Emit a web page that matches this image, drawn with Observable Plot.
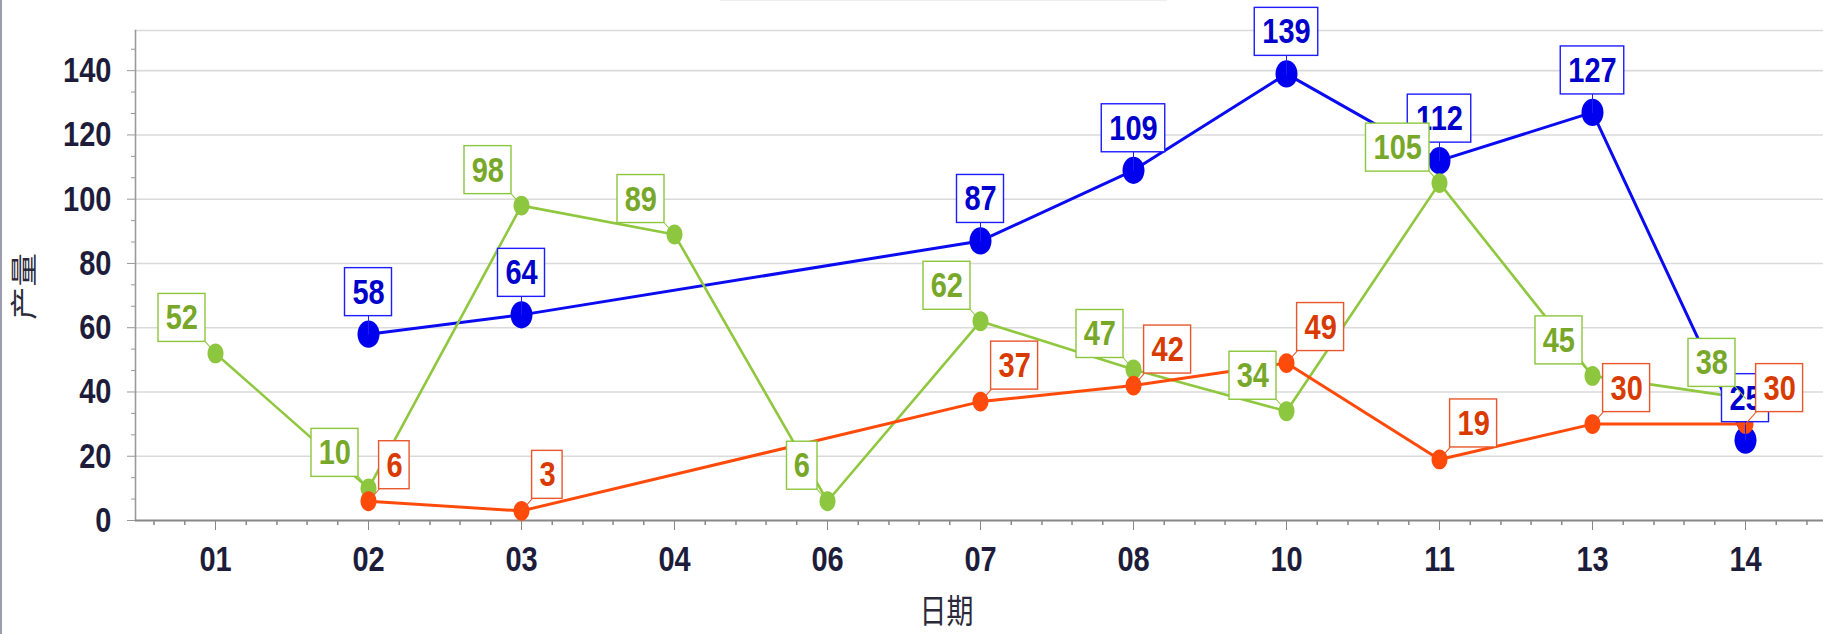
<!DOCTYPE html>
<html><head><meta charset="utf-8">
<script src="https://cdn.jsdelivr.net/npm/d3@7"></script>
<script src="https://cdn.jsdelivr.net/npm/@observablehq/plot@0.6"></script>
<style>
html,body{margin:0;padding:0;background:#fff;}
#wrap{position:relative;width:1823px;height:634px;overflow:hidden;}
#edge{position:absolute;left:0;top:0;width:2px;height:634px;background:#9d9db2;}
#topline{position:absolute;left:720px;top:0;width:447px;height:1px;background:#eeeeee;}
</style></head><body>
<div id="wrap"><div id="chart"></div><div id="edge"></div><div id="topline"></div></div>
<script>
// ---- data ----
const dates = ["01","02","03","04","06","07","08","10","11","13","14"];
const blueDates = ["02","03","07","08","10","11","13","14"];
const blueValues = [58,64,87,109,139,112,127,25];
const greenDates = ["01","02","03","04","06","07","08","10","11","13","14"];
const greenValues = [52,10,98,89,6,62,47,34,105,45,38];
const orangeDates = ["02","03","07","08","10","11","13","14"];
const orangeValues = [6,3,37,42,49,19,30,30];
const yTicks = [0,20,40,60,80,100,120,140];
const xTitle = "日期";
const yTitle = "产量";

// ---- styles ----
const FONT = '"Liberation Sans",Arial,sans-serif';
const STRETCH = 1.24;   // the reference is stretched vertically
const series = [
  {dates: blueDates, values: blueValues, line:"#0b0bf2", dot:"#0000ee", text:"#0000cc", box:"#1c1cff",
   lw:3, rx:11, off:[0,-18], anchor:"middle"},
  {dates: greenDates, values: greenValues, line:"#8fc73e", dot:"#8dc63f", text:"#78a829", box:"#8cc63f",
   lw:2.6, rx:8, off:[-10,-11.5], anchor:"end"},
  {dates: orangeDates, values: orangeValues, line:"#ff4a0a", dot:"#ff4a0a", text:"#d83a00", box:"#e8572b",
   lw:3, rx:8, off:[10.6,-12], anchor:"start"}
];
series.forEach(s => s.rows = s.dates.map((d,i) => ({date:d, value:s.values[i], n:String(s.values[i]).length})));

const ellipse = {
  draw(ctx, size) {
    const rx = Math.sqrt(size/Math.PI), ry = rx*STRETCH, kx = rx*0.5523, ky = ry*0.5523;
    ctx.moveTo(rx,0);
    ctx.bezierCurveTo(rx,ky,kx,ry,0,ry);
    ctx.bezierCurveTo(-kx,ry,-rx,ky,-rx,0);
    ctx.bezierCurveTo(-rx,-ky,-kx,-ry,0,-ry);
    ctx.bezierCurveTo(kx,-ry,rx,-ky,rx,0);
    ctx.closePath();
  }
};
const spikeLine = {draw(ctx, l){ ctx.moveTo(0,0); ctx.lineTo(0,-l); }};

const xLeft = 135, xRight = 1825;
const band = (xRight - xLeft) / dates.length;
const yMinor = d3.range(0, 153, 20/3).filter(v => !yTicks.some(t => Math.abs(t - v) < 0.01));

const marks = [];
// grid + frame
marks.push(Plot.gridY(yTicks.filter(v => v > 0), {stroke:"#dadada", strokeWidth:1.6, strokeOpacity:1}));
marks.push(Plot.frame({anchor:"top", stroke:"#dadada", strokeWidth:1.6}));
marks.push(Plot.frame({anchor:"left", stroke:"#9a9a9a", strokeWidth:1.6}));
// axes
marks.push(Plot.axisY(yMinor, {tickSize:4, tickFormat:() => "", stroke:"#999", label:null}));
marks.push(Plot.axisY(yTicks, {tickSize:8, tickPadding:16, stroke:"#999", fill:"#1d1d3b", label:null}));
marks.push(Plot.axisX(dates, {tickSize:10, tickPadding:15, stroke:"#888", fill:"#1d1d3b", label:null}));
for (const k of [-2,-1,1,2]) {
  marks.push(Plot.ruleX(dates, {x:d => d, y1:0, y2:0, insetBottom:-5, dx:k*band/5, stroke:"#888", strokeWidth:1.5}));
}
marks.push(Plot.ruleY([0], {stroke:"#888", strokeWidth:2}));
// lines and dots
for (const s of series) {
  marks.push(Plot.line(s.rows, {x:"date", y:"value", stroke:s.line, strokeWidth:s.lw}));
}
for (const s of series) {
  marks.push(Plot.dot(s.rows, {x:"date", y:"value", r:s.rx, symbol:ellipse, fill:s.dot, stroke:"none"}));
}
// labels
for (const s of series) {
  const [ox, oy] = s.off;
  const len = Math.hypot(ox, oy);
  const rot = Math.atan2(ox, -oy) * 180 / Math.PI;
  marks.push(Plot.vector(s.rows, {x:"date", y:"value", length:len, rotate:rot, anchor:"start", shape:spikeLine, stroke:s.box, strokeWidth:1}));
  for (const n of [1,2,3]) {
    const rows = s.rows.filter(r => r.n === n);
    if (!rows.length) continue;
    const w = 14 + 16.5*n;
    const bx = s.anchor === "middle" ? 0 : s.anchor === "end" ? ox - w/2 : ox + w/2;
    const by = oy - 24;
    marks.push(Plot.rect(rows, {x1:"date", x2:"date", y1:"value", y2:"value",
      insetLeft:-w/2, insetRight:-w/2, insetTop:-24, insetBottom:-24, dx:bx, dy:by,
      fill:"white", stroke:s.box, strokeWidth:1.4}));
  }
  const tdx = s.anchor === "middle" ? 0 : s.anchor === "end" ? ox - 7.5 : ox + 7.5;
  marks.push(Plot.text(s.rows, {x:"date", y:"value", text:d => String(d.value), fill:s.text,
    textAnchor:s.anchor, lineAnchor:"middle", dx:tdx, dy:oy - 24}));
}
// titles
marks.push(Plot.text([yTitle], {text:d => d, frameAnchor:"left", rotate:-90, dx:-110, dy:11,
  textAnchor:"middle", lineAnchor:"middle",
  fontFamily:'"Noto Sans CJK SC",sans-serif', fontWeight:"normal", fontSize:27, fill:"#2a2a3a"}));
marks.push(Plot.text([xTitle], {text:d => d, frameAnchor:"bottom", dx:-33, dy:92,
  textAnchor:"middle", lineAnchor:"middle",
  fontFamily:'"Noto Sans CJK SC",sans-serif', fontWeight:"normal", fontSize:27, fill:"#2a2a3a"}));

const chart = Plot.plot({
  width:1823, height:634,
  marginLeft:xLeft, marginRight:0, marginTop:30, marginBottom:114,
  x:{type:"point", domain:dates, range:[xLeft, xRight], padding:0.5},
  y:{domain:[0,152.5]},
  style:{fontFamily:FONT, fontSize:"29px", fontWeight:"bold", background:"white", overflow:"visible"},
  marks
});
// stretch every text vertically (as in the reference picture) about its own anchor
const num = v => (v == null || /[a-z%]/i.test(v)) ? 0 : (+v || 0);
d3.select(chart).selectAll("text").each(function() {
  const x = num(this.getAttribute("x")), y = num(this.getAttribute("y"));
  const t = this.getAttribute("transform") || "";
  const rotated = /rotate\(\s*-?90/.test(t);
  const sc = rotated ? `scale(${STRETCH},1)` : `scale(1,${STRETCH})`;
  this.setAttribute("transform", `${t} translate(${x},${y}) ${sc} translate(${-x},${-y})`.trim());
});
document.getElementById("chart").appendChild(chart);
</script>
</body></html>
